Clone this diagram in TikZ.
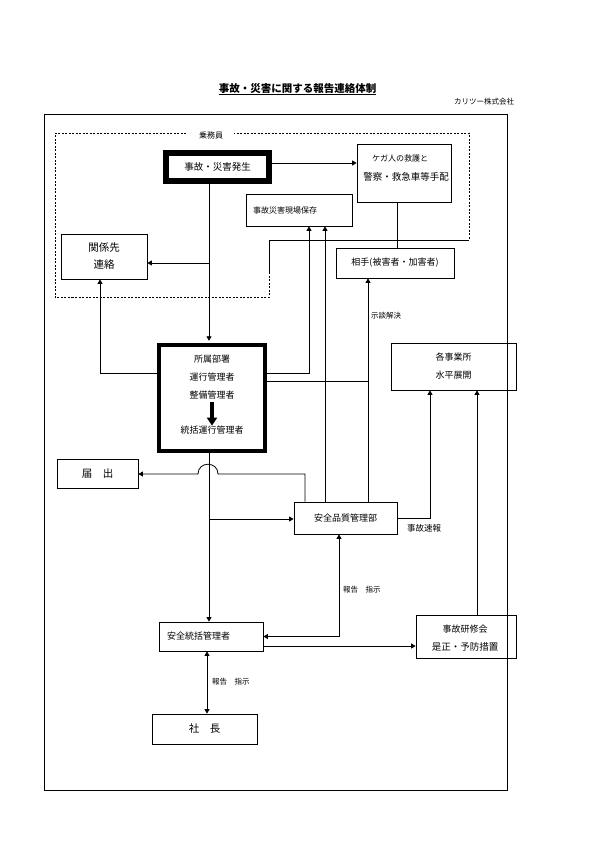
\documentclass[tikz,border=0pt]{standalone}
\usepackage{fontspec}
\setmainfont{Noto Sans CJK JP}
\usetikzlibrary{arrows.meta}
\newcommand\fsz[2]{\fontsize{#1bp}{#2bp}\selectfont}
\begin{document}
\begin{tikzpicture}[x=1bp,y=-1bp,
  box/.style={draw,line width=0.8bp,inner sep=0pt,align=center},
  txt/.style={inner sep=0pt},
  ln/.style={line width=0.8bp},
  dsh/.style={line width=0.7bp,dash pattern=on 2bp off 1.5bp},
  arr/.style={line width=0.8bp,-{Triangle[length=4.5bp,width=5bp]}},
  darr/.style={line width=0.8bp,{Triangle[length=4.5bp,width=5bp]}-{Triangle[length=4.5bp,width=5bp]}},
  bigarr/.style={line width=4bp,-{Triangle[length=8bp,width=10bp]}}
]
\useasboundingbox (0,0) rectangle (595,842);

% title
\node[txt,font=\fsz{10.5}{12}\bfseries] (title) at (297.5,89) {事故・災害に関する報告連絡体制};
\draw[ln] ([yshift=-0.5bp]title.south west) -- ([yshift=-0.5bp]title.south east);
\node[txt,font=\fsz{7.5}{9}] (co) at (484,102) {カリツー株式会社};

% outer frame
\draw[line width=1bp] (44,114) rectangle (507,790);

% crew boundary
\draw[dsh] (269,272) -- (269,297) -- (55,297) -- (55,133) -- (469,133) -- (469,240);
\draw[ln] (469,240) -- (269,240) -- (269,272);
\node[txt,fill=white,minimum width=46bp,minimum height=8bp,font=\fsz{8}{9}] (jomu) at (211,135) {乗務員};

% boxes
\node[box,line width=6bp,minimum width=103bp,minimum height=28bp,font=\fsz{9.5}{11}] (acc) at (217.5,167) {事故・災害発生};
\node[box,minimum width=94bp,minimum height=58bp] (inj) at (404,173) {};
\node[txt,font=\fsz{8}{9}] (inj1) at (400,158) {ケガ人の救護と};
\node[txt,font=\fsz{9.5}{11}] (inj2) at (406,177) {警察・救急車等手配};
\node[box,minimum width=106bp,minimum height=32bp,text width=92bp,inner xsep=7bp,align=left,font=\fsz{8}{9}] (genba) at (299,210) {事故災害現場保存};
\node[box,minimum width=86bp,minimum height=45bp,font=\fsz{10.5}{17}] (kankei) at (104,256.5) {関係先\\連絡};
\node[box,minimum width=118bp,minimum height=30bp,font=\fsz{9}{11}] (aite) at (395,263) {相手(被害者・加害者)};

\node[box,line width=4.3bp,minimum width=105.7bp,minimum height=105.7bp] (dept) at (212,398) {};
\node[txt,font=\fsz{9}{11}] (d1) at (212,359) {所属部署};
\node[txt,font=\fsz{9}{11}] (d2) at (212,377) {運行管理者};
\node[txt,font=\fsz{9}{11}] (d3) at (212,395) {整備管理者};
\node[txt,font=\fsz{9}{11}] (d4) at (212,430) {統括運行管理者};
\draw[bigarr,shorten <=3bp] (d3) -- (d4);

\node[box,minimum width=125bp,minimum height=47bp,font=\fsz{9}{18}] (kaku) at (453.5,366.5) {各事業所\\水平展開};
\node[box,minimum width=81bp,minimum height=29bp,font=\fsz{10.5}{12}] (todoke) at (97.5,473.5) {届　出};
\node[box,minimum width=103bp,minimum height=32bp,font=\fsz{9}{11}] (hin) at (345.5,518) {安全品質管理部};
\node[box,minimum width=104bp,minimum height=29bp,text width=88bp,inner xsep=8bp,align=left,font=\fsz{9}{11}] (sou) at (211,636.5) {安全統括管理者};
\node[box,minimum width=100bp,minimum height=43bp] (ken) at (466,636.5) {};
\node[txt,font=\fsz{9}{11}] (ken1) at (465,629) {事故研修会};
\node[txt,font=\fsz{9.5}{11}] (ken2) at (465,647) {是正・予防措置};
\node[box,minimum width=105bp,minimum height=30bp,font=\fsz{10.5}{12}] (sha) at (204.5,729) {社　長};

% labels
\node[txt,anchor=west,font=\fsz{7.5}{9}] (lbl1) at (371,316) {示談解決};
\node[txt,anchor=west,font=\fsz{8.5}{10}] (lbl2) at (407,528) {事故速報};
\node[txt,anchor=west,font=\fsz{7.5}{9}] (lbl3) at (343,590) {報告　指示};
\node[txt,anchor=west,font=\fsz{7.5}{9}] (lbl4) at (212,682) {報告　指示};

% junctions
\coordinate (j1) at (209,263);
\coordinate (j2) at (209,519);
\coordinate (j3) at (368,381);

% connectors
\draw[arr] (acc.east |- 0,163) -- (inj.west |- 0,163);
\draw[arr,shorten >=2.2bp] (acc.south -| 209,0) -- (dept.north -| 209,0);
\draw[arr] (j1) -- (kankei.east |- j1);
\draw[arr] (dept.west |- 0,373) -| (kankei.south -| 100,0);
\draw[arr] (dept.east |- 0,373) -| (genba.south -| 309,0);
\draw[ln] (dept.east |- j3) -- (j3);
\draw[arr] (hin.north -| 325,0) -- (genba.south -| 325,0);
\draw[arr] (hin.north -| 368,0) -- (aite.south -| 368,0);
\draw[arr] (hin.north -| 305,0) -- (305,474) -- (218,474) .. controls (218,461) and (198,461) .. (198,474) -- (todoke.east |- 0,474);
\draw[arr] (j2) -- (hin.west |- j2);
\draw[arr] (dept.south -| 209,0) -- (sou.north -| 209,0);
\draw[darr] (hin.south -| 339,0) |- (sou.east);
\draw[arr] (hin.east |- 0,518) -| (kaku.south -| 430,0);
\draw[arr] (ken.north -| 477,0) -- (kaku.south -| 477,0);
\draw[arr] (sou.east |- 0,646) -- (ken.west |- 0,646);
\draw[darr] (sou.south -| 207,0) -- (sha.north -| 207,0);
\draw[ln] (inj.south -| 397,0) -- (aite.north -| 397,0);
\end{tikzpicture}
\end{document}
